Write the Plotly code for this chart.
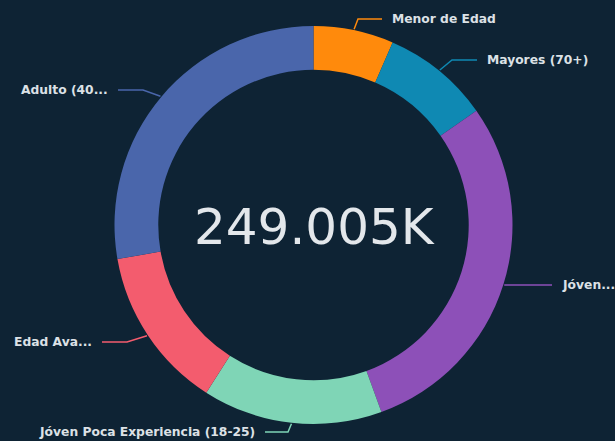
import math
import plotly.graph_objects as go

# ---- data ----
categories = ["Menor de Edad", "Mayores (70+)", "Jóven...", "Jóven Poca Experiencia (18-25)", "Edad Ava...", "Adulto (40..."]
values = [16205, 21790, 72710, 36350, 32870, 69080]
center_label = "249.005K"

# ---- style ----
colors = ["#FF8A0C", "#0F89B3", "#8D50B8", "#7FD5B6", "#F35C6E", "#4A66AB"]
BG = "#0E2334"
TXT = "#DCE1E6"
W, H = 615, 441
CX, CY, R = 313.5, 225.0, 199.0   # pie geometry in pixels
HOLE = 0.78

# label layout (pixels): elbow point, end of leader, text anchor side
label_layout = [
    ((358, 19), (382, 19), "left"),
    ((452, 60), (477, 60), "left"),
    ((530, 285), (552, 285), "left"),
    ((288, 432), (265, 432), "right"),
    ((127, 342), (102, 342), "right"),
    ((143, 90), (118, 90), "right"),
]

def px(x):
    return x / W

def py(y):
    return 1 - y / H

fig = go.Figure(go.Pie(
    labels=categories,
    values=values,
    sort=False,
    direction="clockwise",
    rotation=0,
    hole=HOLE,
    marker=dict(colors=colors, line=dict(width=0)),
    textinfo="none",
    hoverinfo="label+value",
    domain=dict(x=[px(CX - R), px(CX + R)], y=[py(CY + R), py(CY - R)]),
    showlegend=False,
))

total = sum(values)
shapes = []
annotations = []
cum = 0
for cat, v, col, (elbow, end, side) in zip(categories, values, colors, label_layout):
    mid = (cum + v / 2) / total * 2 * math.pi
    cum += v
    sx = CX + (R + 1) * math.sin(mid)
    sy = CY - (R + 1) * math.cos(mid)
    path = f"M {px(sx)},{py(sy)} L {px(elbow[0])},{py(elbow[1])} L {px(end[0])},{py(end[1])}"
    shapes.append(dict(type="path", path=path, xref="paper", yref="paper",
                       line=dict(color=col, width=1.5)))
    gap = 8
    annotations.append(dict(
        text=cat, xref="paper", yref="paper", showarrow=False,
        x=px(end[0] + (gap if side == "left" else -gap)), y=py(end[1]),
        xanchor=side, yanchor="middle",
        font=dict(family="DejaVu Sans", size=12.3, color=TXT, weight="bold"),
    ))

annotations.append(dict(
    text=center_label, xref="paper", yref="paper", showarrow=False,
    x=px(CX + 1), y=py(CY + 2), xanchor="center", yanchor="middle",
    font=dict(family="DejaVu Sans", size=50, color="#E3E7EB"),
))

fig.update_layout(
    width=W, height=H,
    margin=dict(l=0, r=0, t=0, b=0),
    paper_bgcolor=BG, plot_bgcolor=BG,
    shapes=shapes, annotations=annotations,
)

fig.write_html("out.html", config=dict(displayModeBar=False),
               post_script="document.body.style.margin='0px';document.body.style.background='%s';" % BG)
